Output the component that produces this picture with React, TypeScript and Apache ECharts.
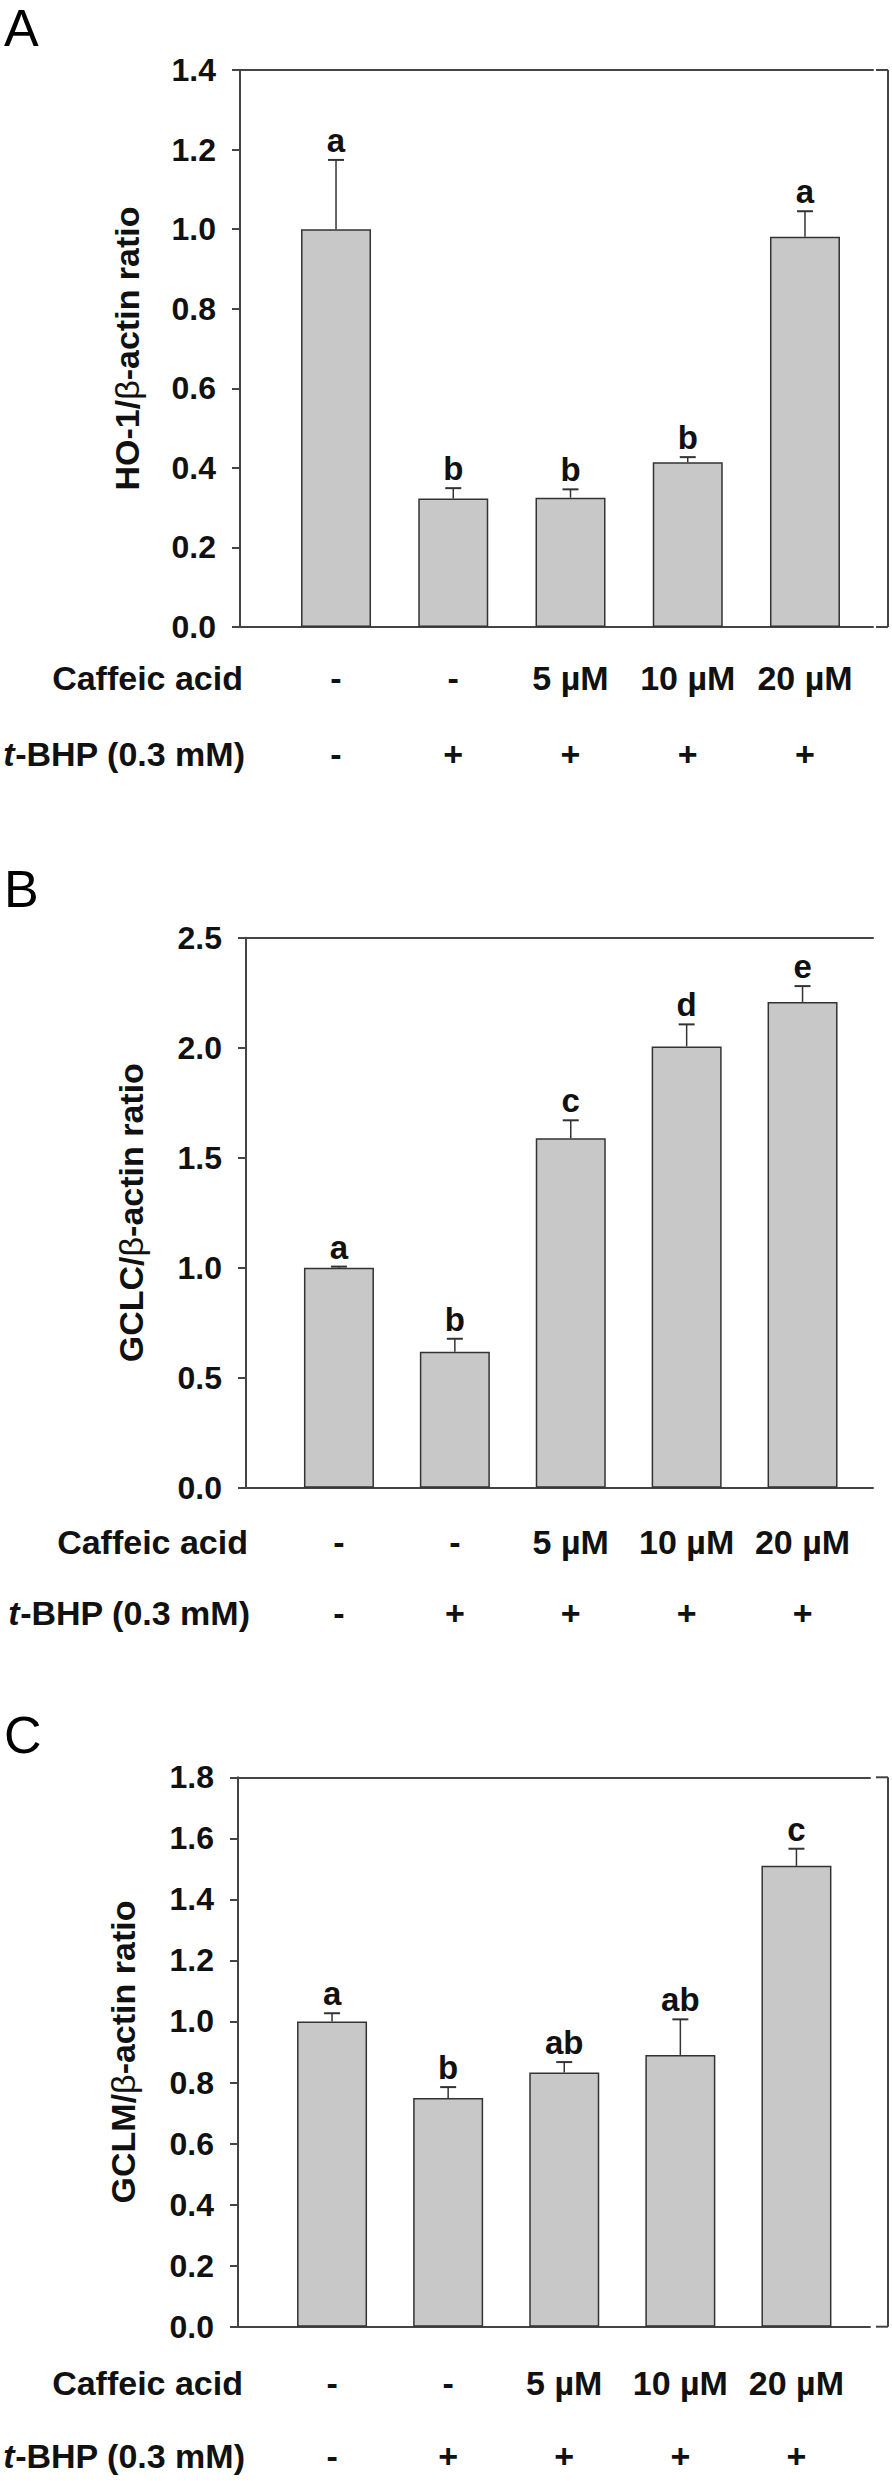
import React, { useEffect, useRef } from "react";
import * as echarts from "echarts";

// ---------- data ----------
const caffeicLabels = ["-", "-", "5 µM", "10 µM", "20 µM"];
const tbhpLabels = ["-", "+", "+", "+", "+"];

const hoMeans = [1.0, 0.323, 0.325, 0.414, 0.981];
const hoErrors = [0.174, 0.026, 0.021, 0.013, 0.064];
const hoLetters = ["a", "b", "b", "b", "a"];
const hoTicks = [0, 0.2, 0.4, 0.6, 0.8, 1.0, 1.2, 1.4];

const gclcMeans = [1.0, 0.618, 1.588, 2.006, 2.208];
const gclcErrors = [0.005, 0.059, 0.082, 0.1, 0.072];
const gclcLetters = ["a", "b", "c", "d", "e"];
const gclcTicks = [0, 0.5, 1.0, 1.5, 2.0, 2.5];

const gclmMeans = [1.0, 0.749, 0.833, 0.89, 1.51];
const gclmErrors = [0.027, 0.036, 0.034, 0.117, 0.056];
const gclmLetters = ["a", "b", "ab", "ab", "c"];
const gclmTicks = [0, 0.2, 0.4, 0.6, 0.8, 1.0, 1.2, 1.4, 1.6, 1.8];

const FONT = "'Liberation Sans', Arial, Helvetica, sans-serif";
const AXIS_COLOR = "#444";
const TEXT_COLOR = "#111";

type Panel = {
  letter: string;
  letterY: number;
  titleParts: [string, string];
  means: number[];
  errors: number[];
  letters: string[];
  ticks: number[];
  frameLeft: number;
  frameRight: number;
  top: number;
  bottom: number;
  barLeft: number;
  barGridWidth: number;
  caffeicOff: number;
  tbhpOff: number;
  rowRight: number;
  nameGap: number;
  bracket: boolean;
};

const panels: Panel[] = [
  {
    letter: "A",
    letterY: 28,
    titleParts: ["HO-1/", "-actin ratio"],
    means: hoMeans,
    errors: hoErrors,
    letters: hoLetters,
    ticks: hoTicks,
    frameLeft: 240,
    frameRight: 873,
    top: 70,
    bottom: 627,
    barLeft: 277.4,
    barGridWidth: 586.2,
    caffeicOff: 51,
    tbhpOff: 127,
    rowRight: 243,
    nameGap: 96,
    bracket: true,
  },
  {
    letter: "B",
    letterY: 889,
    titleParts: ["GCLC/", "-actin ratio"],
    means: gclcMeans,
    errors: gclcErrors,
    letters: gclcLetters,
    ticks: gclcTicks,
    frameLeft: 246,
    frameRight: 873,
    top: 937.7,
    bottom: 1487.7,
    barLeft: 281,
    barGridWidth: 579.5,
    caffeicOff: 54,
    tbhpOff: 125,
    rowRight: 248,
    nameGap: 98,
    bracket: false,
  },
  {
    letter: "C",
    letterY: 1735,
    titleParts: ["GCLM/", "-actin ratio"],
    means: gclmMeans,
    errors: gclmErrors,
    letters: gclmLetters,
    ticks: gclmTicks,
    frameLeft: 238,
    frameRight: 870,
    top: 1777.3,
    bottom: 2326.7,
    barLeft: 274,
    barGridWidth: 580.5,
    caffeicOff: 56,
    tbhpOff: 129,
    rowRight: 243,
    nameGap: 98,
    bracket: true,
  },
];

function buildOption() {
  const grid: any[] = [];
  const xAxis: any[] = [];
  const yAxis: any[] = [];
  const series: any[] = [];
  const graphic: any[] = [];

  panels.forEach((p, i) => {
    const height = p.bottom - p.top;
    const yMin = p.ticks[0];
    const yMax = p.ticks[p.ticks.length - 1];
    const interval = p.ticks[1] - p.ticks[0];

    grid.push({ left: p.frameLeft, top: p.top, width: p.frameRight - p.frameLeft, height });
    grid.push({ left: p.barLeft, top: p.top, width: p.barGridWidth, height });
    const gFrame = 2 * i;
    const gBar = 2 * i + 1;

    const lineOnly = (pos: string) => ({
      gridIndex: gFrame,
      type: "value",
      min: 0,
      max: 1,
      position: pos,
      axisLine: { show: true, onZero: false, lineStyle: { color: AXIS_COLOR, width: 2 } },
      axisTick: { show: false },
      axisLabel: { show: false },
      splitLine: { show: false },
    });
    xAxis.push(lineOnly("bottom"));
    xAxis.push(lineOnly("top"));

    const rowLabelStyle = {
      interval: 0,
      verticalAlign: "middle",
      fontSize: 34,
      fontWeight: "bold",
      color: TEXT_COLOR,
      fontFamily: FONT,
    };
    const xCaffeic = xAxis.length;
    xAxis.push({
      gridIndex: gBar,
      type: "category",
      data: caffeicLabels,
      position: "bottom",
      axisLine: { show: false },
      axisTick: { show: false },
      axisLabel: { ...rowLabelStyle, margin: p.caffeicOff },
    });
    xAxis.push({
      gridIndex: gBar,
      type: "category",
      data: tbhpLabels,
      position: "bottom",
      axisLine: { show: false },
      axisTick: { show: false },
      axisLabel: { ...rowLabelStyle, margin: p.tbhpOff },
    });

    yAxis.push({
      gridIndex: gFrame,
      type: "value",
      min: yMin,
      max: yMax,
      interval,
      axisLine: { show: true, lineStyle: { color: AXIS_COLOR, width: 2 } },
      axisTick: { show: true, inside: false, length: 8, lineStyle: { color: AXIS_COLOR, width: 2 } },
      axisLabel: {
        margin: 24,
        fontSize: 32,
        fontWeight: "bold",
        color: TEXT_COLOR,
        fontFamily: FONT,
        formatter: (v: number) => v.toFixed(1),
      },
      splitLine: { show: false },
      name: `{b|${p.titleParts[0]}}{g|β}{b|${p.titleParts[1]}}`,
      nameLocation: "middle",
      nameRotate: 90,
      nameGap: p.nameGap,
      nameTextStyle: {
        rich: {
          b: { fontSize: 34, fontWeight: "bold", fontFamily: FONT, color: TEXT_COLOR },
          g: { fontSize: 34, fontWeight: "normal", fontFamily: FONT, color: TEXT_COLOR },
        },
      },
    });
    const yBar = yAxis.length;
    yAxis.push({
      gridIndex: gBar,
      type: "value",
      min: yMin,
      max: yMax,
      interval,
      show: false,
      splitLine: { show: false },
    });

    series.push({
      type: "bar",
      xAxisIndex: xCaffeic,
      yAxisIndex: yBar,
      data: p.means,
      barWidth: 70,
      itemStyle: { color: "#c8c8c8", borderColor: "#333", borderWidth: 1.5 },
      z: 2,
    });

    const letters = p.letters;
    series.push({
      type: "custom",
      xAxisIndex: xCaffeic,
      yAxisIndex: yBar,
      z: 3,
      data: p.means.map((m, j) => [j, m, p.errors[j]]),
      renderItem: (params: any, api: any) => {
        const idx = api.value(0);
        const m = api.value(1);
        const e = api.value(2);
        const base = api.coord([idx, m]);
        const top = api.coord([idx, m + e]);
        return {
          type: "group",
          children: [
            {
              type: "line",
              shape: { x1: base[0], y1: base[1], x2: top[0], y2: top[1] },
              style: { stroke: "#333", lineWidth: 1.5 },
            },
            {
              type: "line",
              shape: { x1: top[0] - 8, y1: top[1], x2: top[0] + 8, y2: top[1] },
              style: { stroke: "#333", lineWidth: 2 },
            },
            {
              type: "text",
              x: top[0],
              y: top[1] - 3,
              style: {
                text: letters[params.dataIndex],
                align: "center",
                verticalAlign: "bottom",
                fontSize: 33,
                fontWeight: "bold",
                fontFamily: FONT,
                fill: TEXT_COLOR,
              },
            },
          ],
        };
      },
    });

    graphic.push({
      type: "text",
      x: 4,
      y: p.letterY,
      style: { text: p.letter, verticalAlign: "middle", fontSize: 52, fontFamily: FONT, fill: "#000" },
    });
    graphic.push({
      type: "text",
      x: p.rowRight,
      y: p.bottom + p.caffeicOff,
      style: {
        text: "Caffeic acid",
        align: "right",
        verticalAlign: "middle",
        fontSize: 34,
        fontWeight: "bold",
        fontFamily: FONT,
        fill: TEXT_COLOR,
      },
    });
    graphic.push({
      type: "text",
      x: p.rowRight + 2,
      y: p.bottom + p.tbhpOff,
      style: {
        text: "{i|t}{n|-BHP (0.3 mM)}",
        align: "right",
        verticalAlign: "middle",
        rich: {
          i: { fontSize: 34, fontWeight: "bold", fontStyle: "italic", fontFamily: FONT, fill: TEXT_COLOR },
          n: { fontSize: 34, fontWeight: "bold", fontFamily: FONT, fill: TEXT_COLOR },
        },
      },
    });
    if (p.bracket) {
      const bx = 888;
      const sx = 876;
      const st = { stroke: AXIS_COLOR, lineWidth: 2 };
      graphic.push({ type: "line", shape: { x1: sx, y1: p.top, x2: bx, y2: p.top }, style: st });
      graphic.push({ type: "line", shape: { x1: bx, y1: p.top, x2: bx, y2: p.bottom }, style: st });
      graphic.push({ type: "line", shape: { x1: sx, y1: p.bottom, x2: bx, y2: p.bottom }, style: st });
    }
  });

  return {
    animation: false,
    backgroundColor: "#ffffff",
    grid,
    xAxis,
    yAxis,
    series,
    graphic,
  };
}

export default function App() {
  const ref = useRef<HTMLDivElement | null>(null);
  useEffect(() => {
    document.body.style.margin = "0";
    if (!ref.current) return;
    const chart = echarts.init(ref.current, undefined, { renderer: "svg" });
    chart.setOption(buildOption() as any);
    return () => chart.dispose();
  }, []);
  return <div ref={ref} style={{ width: 892, height: 2481, background: "#fff" }} />;
}
